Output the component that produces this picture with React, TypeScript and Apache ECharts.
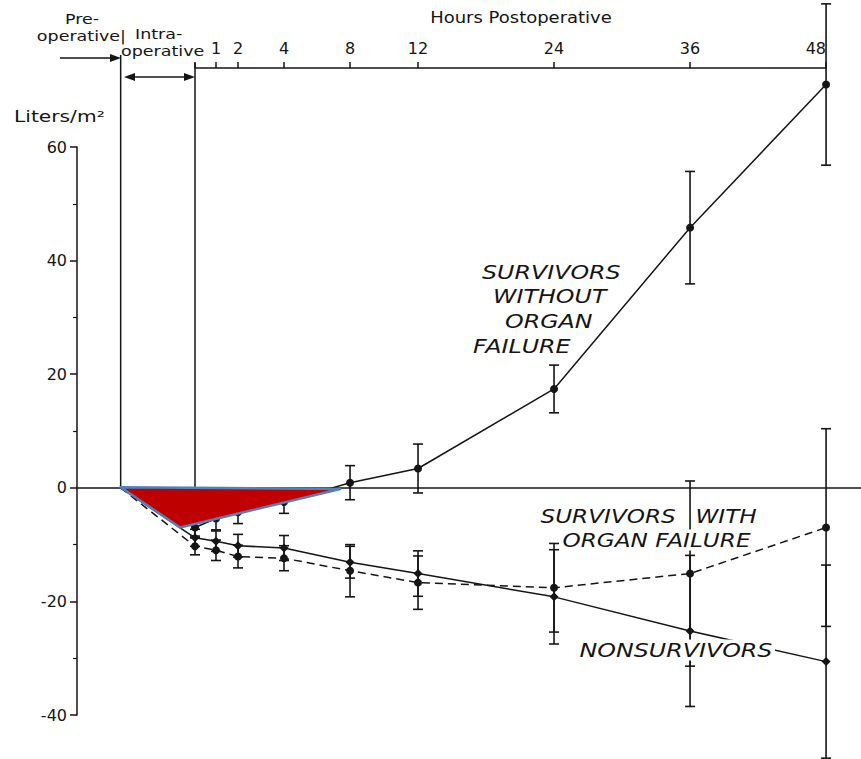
import React, { useEffect, useRef } from "react";
import * as echarts from "echarts";

// ---------- data ----------
// x = hours after the end of the operation; -1 marks the start of the operation
// (end of the preoperative period), 0 marks the end of the operation.
const HOURS = [-1, 0, 1, 2, 4, 8, 12, 24, 36, 48];
const SURV_NO_OF = [0, -7.0, -5.4, -4.3, -2.5, 0.9, 3.4, 17.4, 45.8, 71.0];
const SURV_NO_OF_ERR = [0, 1.5, 2.0, 2.0, 2.0, 3.0, 4.3, 4.2, 9.9, 14.2];
const SURV_OF = [0, -10.3, -11.0, -12.1, -12.4, -14.6, -16.7, -17.6, -15.1, -7.0];
const SURV_OF_ERR = [0, 1.5, 1.8, 2.0, 2.2, 4.6, 4.7, 7.8, 16.3, 17.4];
const NONSURV = [0, -8.8, -9.4, -10.2, -10.6, -13.1, -15.1, -19.2, -25.2, -30.6];
const NONSURV_ERR = [0, 1.5, 1.8, 2.0, 2.2, 2.8, 4.0, 8.3, 13.3, 17.0];

const TICK_HOURS = [0, 1, 2, 4, 8, 12, 24, 36, 48];
const LABEL_HOURS = [1, 2, 4, 8, 12, 24, 36, 48];
const Y_MIN = -40;
const Y_MAX = 60;
const Y_STEP = 20;

// red highlighted triangle (hour, value)
const HIGHLIGHT = [
  [-1, 0.1],
  [-0.2, -7.0],
  [7.4, -0.2],
];

// ---------- axis transform (the original time axis is stretched before 12 h) ----------
const KNOT_H = [0, 1, 2, 4, 8, 12, 48];
const KNOT_U = [0, 1.85, 3.79, 7.84, 13.66, 19.65, 55.6];
const INTRAOP_U = 6.55;
function xPos(h: number): number {
  if (h <= 0) return h * INTRAOP_U;
  for (let i = 1; i < KNOT_H.length; i++) {
    if (h <= KNOT_H[i]) {
      const t = (h - KNOT_H[i - 1]) / (KNOT_H[i] - KNOT_H[i - 1]);
      return KNOT_U[i - 1] + t * (KNOT_U[i] - KNOT_U[i - 1]);
    }
  }
  return KNOT_U[KNOT_U.length - 1];
}
function hourOf(u: number): string {
  let best = TICK_HOURS[0];
  let d = Infinity;
  for (const h of TICK_HOURS) {
    const dd = Math.abs(xPos(h) - u);
    if (dd < d) {
      d = dd;
      best = h;
    }
  }
  return String(best);
}

const INK = "#151515";
const FONT = "DejaVu Sans";
const PX_PER_U = 11.35;
const ZERO_X = 195; // pixel of hour 0
const W = 861;
const H = 759;

function lineData(vals: number[]) {
  return HOURS.map((h, i) =>
    i === 0 ? { value: [xPos(h), vals[i]], symbol: "none" } : [xPos(h), vals[i]]
  );
}
function errData(vals: number[], errs: number[]) {
  const out: number[][] = [];
  HOURS.forEach((h, i) => {
    if (errs[i] > 0) out.push([xPos(h), vals[i] - errs[i], vals[i] + errs[i]]);
  });
  return out;
}

const BOUNDARY_HOURS = [-1, 0];
const BOUNDARY_TOP = [55, 63];

function buildOption(): any {
  const lineCommon = {
    type: "line",
    xAxisIndex: 0,
    yAxisIndex: 0,
    clip: false,
    smooth: false,
    symbolSize: 8,
    itemStyle: { color: INK },
    z: 3,
  };
  const errSeries = (name: string, vals: number[], errs: number[]) => ({
    type: "custom",
    name,
    xAxisIndex: 0,
    yAxisIndex: 0,
    clip: false,
    z: 2,
    data: errData(vals, errs),
    renderItem: (_p: any, api: any) => {
      const x = api.value(0);
      const lo = api.coord([x, api.value(1)]);
      const hi = api.coord([x, api.value(2)]);
      const w = 5;
      const style = { stroke: INK, lineWidth: 1.6 };
      return {
        type: "group",
        children: [
          { type: "line", shape: { x1: lo[0], y1: lo[1], x2: hi[0], y2: hi[1] }, style },
          { type: "line", shape: { x1: lo[0] - w, y1: lo[1], x2: lo[0] + w, y2: lo[1] }, style },
          { type: "line", shape: { x1: hi[0] - w, y1: hi[1], x2: hi[0] + w, y2: hi[1] }, style },
        ],
      };
    },
  });

  const label = (text: string, x: number, y: number, size: number, opts: any = {}) => ({
    type: "text",
    x,
    y,
    z: 100,
    scaleX: opts.sx || 1,
    style: {
      text,
      fill: INK,
      font: `${opts.italic ? "italic " : ""}${size}px "${FONT}"`,
      textAlign: opts.align || "left",
      textVerticalAlign: "middle",
      backgroundColor: opts.bg,
      padding: opts.bg ? [1, 2] : undefined,
    },
  });

  return {
    animation: false,
    backgroundColor: "#ffffff",
    grid: [
      { left: 77, right: 0, top: 147, bottom: 44 },
      { left: ZERO_X, right: W - 826, top: 68, height: 20 },
    ],
    xAxis: [
      {
        type: "value",
        gridIndex: 0,
        min: -(ZERO_X - 77) / PX_PER_U,
        max: (W - ZERO_X) / PX_PER_U,
        axisLine: { show: true, onZero: true, lineStyle: { color: INK, width: 1.5 } },
        axisTick: { show: false },
        axisLabel: { show: false },
        splitLine: { show: false },
      },
      {
        type: "value",
        gridIndex: 1,
        position: "top",
        min: 0,
        max: xPos(48),
        axisLine: { show: true, onZero: false, lineStyle: { color: INK, width: 1.5 } },
        axisTick: {
          show: true,
          length: 6,
          customValues: TICK_HOURS.map(xPos),
          lineStyle: { color: INK, width: 1.5 },
        },
        axisLabel: {
          show: true,
          customValues: LABEL_HOURS.map(xPos),
          formatter: (v: number) => hourOf(v),
          margin: 12,
          color: INK,
          fontSize: 16,
          fontFamily: FONT,
          alignMaxLabel: "right",
        },
        splitLine: { show: false },
      },
    ],
    yAxis: [
      {
        type: "value",
        gridIndex: 0,
        min: Y_MIN,
        max: Y_MAX,
        interval: Y_STEP,
        axisLine: { show: true, onZero: false, lineStyle: { color: INK, width: 1.5 } },
        axisTick: { show: true, length: 7, lineStyle: { color: INK, width: 1.5 } },
        minorTick: { show: true, splitNumber: 2, length: 4, lineStyle: { color: INK, width: 1.2 } },
        axisLabel: { color: INK, fontSize: 16, fontFamily: FONT, margin: 10 },
        splitLine: { show: false },
      },
      { type: "value", gridIndex: 1, show: false, min: 0, max: 1 },
    ],
    series: [
      errSeries("err-swof", SURV_NO_OF, SURV_NO_OF_ERR),
      errSeries("err-ns", NONSURV, NONSURV_ERR),
      errSeries("err-sof", SURV_OF, SURV_OF_ERR),
      {
        ...lineCommon,
        name: "Survivors without organ failure",
        symbol: "circle",
        data: lineData(SURV_NO_OF),
        lineStyle: { color: INK, width: 1.5 },
      },
      {
        ...lineCommon,
        name: "Nonsurvivors",
        symbol: "diamond",
        symbolSize: 9,
        data: lineData(NONSURV),
        lineStyle: { color: INK, width: 1.5 },
      },
      {
        ...lineCommon,
        name: "Survivors with organ failure",
        symbol: "circle",
        data: lineData(SURV_OF),
        lineStyle: { color: INK, width: 1.5, type: [8, 5] },
      },
      {
        type: "custom",
        name: "boundaries",
        xAxisIndex: 0,
        yAxisIndex: 0,
        clip: false,
        z: 2,
        data: BOUNDARY_HOURS.map((h) => [xPos(h), 0]),
        renderItem: (p: any, api: any) => {
          const b = api.coord([api.value(0), api.value(1)]);
          return {
            type: "line",
            shape: { x1: b[0], y1: b[1], x2: b[0], y2: BOUNDARY_TOP[p.dataIndex] },
            style: { stroke: INK, lineWidth: 1.5 },
          };
        },
      },
      {
        type: "custom",
        name: "highlight",
        xAxisIndex: 0,
        yAxisIndex: 0,
        clip: false,
        z: 10,
        data: [[0, 0]],
        renderItem: (_p: any, api: any) => ({
          type: "polygon",
          shape: { points: HIGHLIGHT.map(([h, v]) => api.coord([xPos(h), v])) },
          style: { fill: "#BF0000", stroke: "#4F81BD", lineWidth: 2.5, lineJoin: "round" },
        }),
      },
    ],
    graphic: [
      label("Hours Postoperative", 521, 18, 15, { align: "center", sx: 1.2 }),
      label("Pre-", 82, 19, 14, { align: "center", sx: 1.25 }),
      label("operative|", 126, 36, 14, { align: "right", sx: 1.25 }),
      label("Intra-", 135, 34, 14, { sx: 1.25 }),
      label("operative", 121, 51, 14, { sx: 1.25 }),
      label("Liters/m²", 14, 117, 15, { sx: 1.35 }),
      label("SURVIVORS", 482, 272, 19, { italic: true, sx: 1.25 }),
      label("WITHOUT", 493, 296, 19, { italic: true, sx: 1.25 }),
      label("ORGAN", 505, 321, 19, { italic: true, sx: 1.25 }),
      label("FAILURE", 473, 346, 19, { italic: true, sx: 1.25 }),
      label("SURVIVORS", 538, 516, 19, { italic: true, bg: "#fff", sx: 1.22 }),
      label("WITH", 693, 516, 19, { italic: true, bg: "#fff", sx: 1.22 }),
      label("ORGAN FAILURE", 560, 540, 19, { italic: true, bg: "#fff", sx: 1.22 }),
      label("NONSURVIVORS", 577, 650, 19, { italic: true, bg: "#fff", sx: 1.25 }),
      {
        type: "line",
        z: 100,
        shape: { x1: 60, y1: 58, x2: 113, y2: 58 },
        style: { stroke: INK, lineWidth: 1.5 },
      },
      {
        type: "polygon",
        z: 100,
        shape: { points: [[121, 58], [110, 54], [110, 62]] },
        style: { fill: INK },
      },
      {
        type: "line",
        z: 100,
        shape: { x1: 130, y1: 77, x2: 188, y2: 77 },
        style: { stroke: INK, lineWidth: 1.5 },
      },
      {
        type: "polygon",
        z: 100,
        shape: { points: [[124, 77], [135, 73], [135, 81]] },
        style: { fill: INK },
      },
      {
        type: "polygon",
        z: 100,
        shape: { points: [[195, 77], [184, 73], [184, 81]] },
        style: { fill: INK },
      },
    ],
  };
}

export default function App() {
  const ref = useRef<HTMLDivElement>(null);
  useEffect(() => {
    if (!ref.current) return;
    const chart = echarts.init(ref.current, null, { renderer: "svg" });
    chart.setOption(buildOption());
    return () => chart.dispose();
  }, []);
  return (
    <div
      ref={ref}
      style={{ position: "fixed", left: 0, top: 0, width: W, height: H, background: "#fff" }}
    />
  );
}
